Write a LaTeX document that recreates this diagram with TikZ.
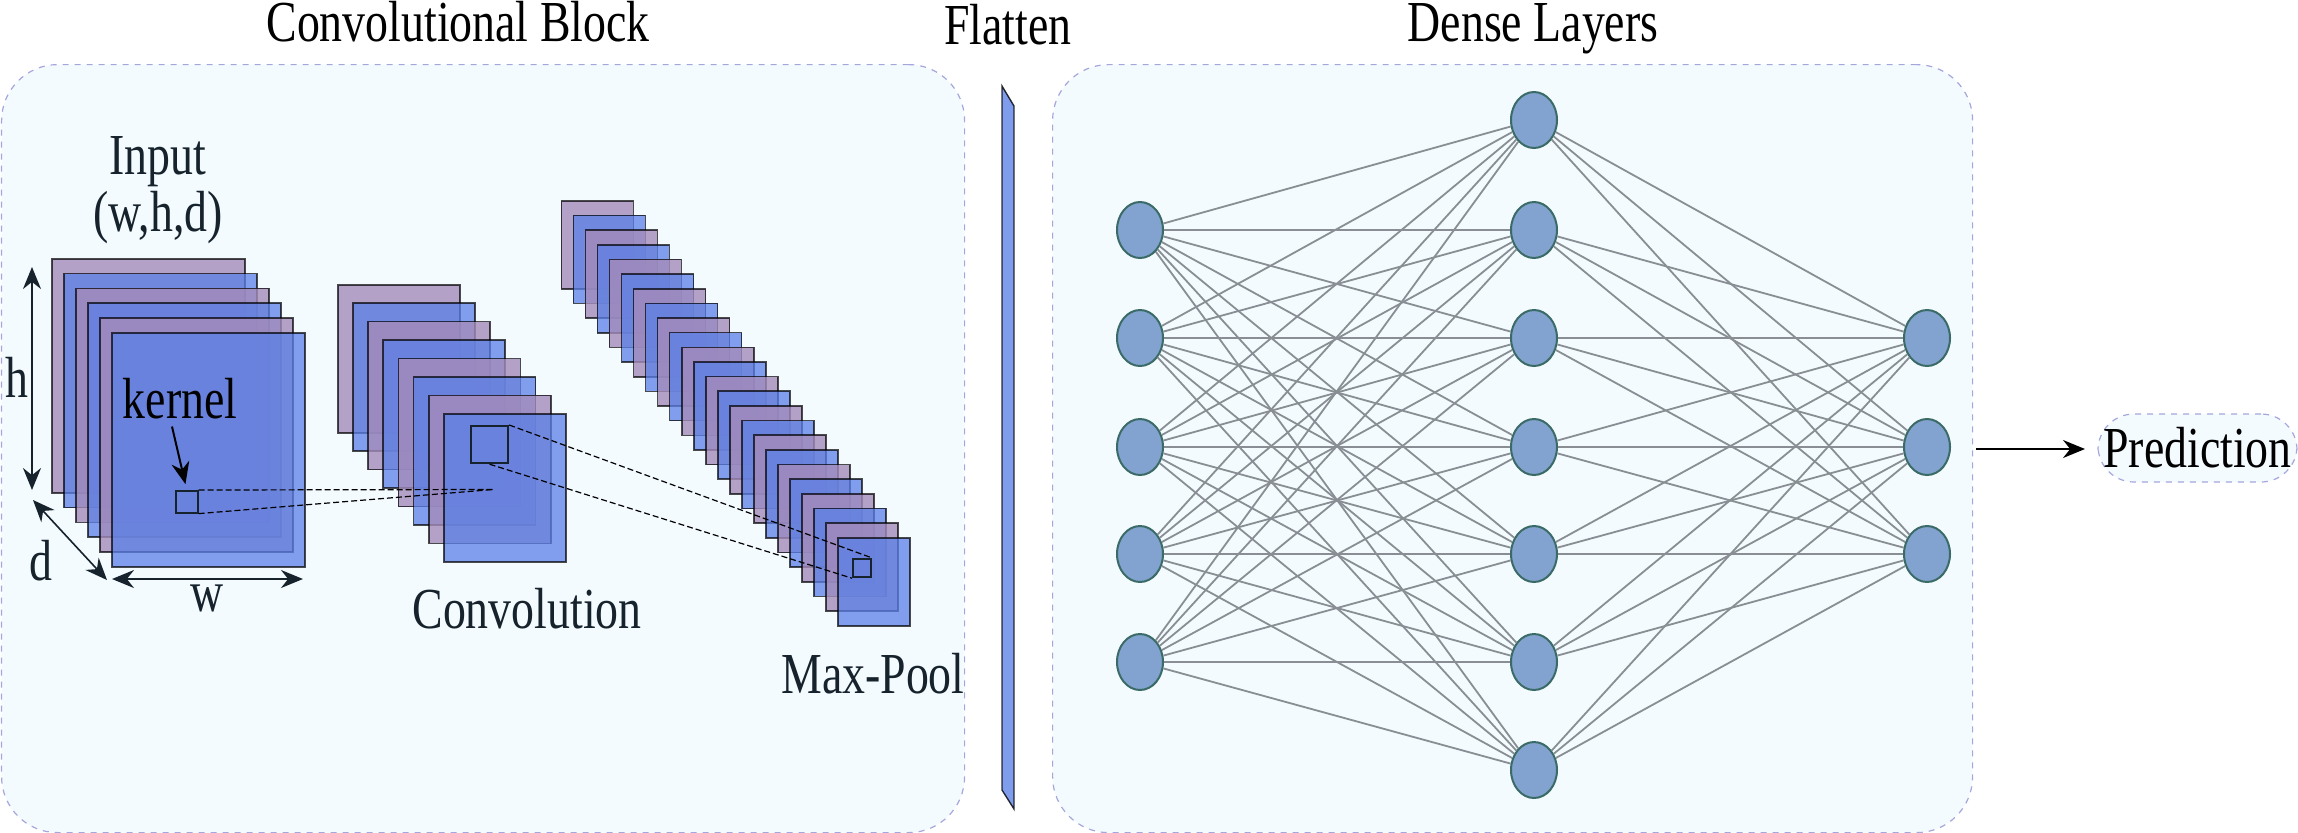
\documentclass[tikz,border=0pt]{standalone}
\usepackage{fontspec}
\setmainfont[FakeStretch=0.79]{Liberation Serif}
\usepackage{tikz}
\usetikzlibrary{arrows.meta}
\usetikzlibrary{shapes.geometric}

\definecolor{panelfill}{HTML}{F3FBFF}
\definecolor{paneldash}{HTML}{A6A6DC}
\definecolor{layerpurple}{HTML}{A58BB9}
\definecolor{layerblue}{HTML}{5A80E7}
\definecolor{barblue}{HTML}{7F9DEC}
\definecolor{neuronfill}{HTML}{82A2CF}
\definecolor{neurondraw}{HTML}{3B6B66}
\definecolor{linkgray}{HTML}{888E93}
\definecolor{labelink}{HTML}{16222C}

\tikzset{
    panel/.style={draw=paneldash,fill=panelfill,dashed,line width=0.6pt,rounded corners=28pt},
    layer0/.style={draw=black,draw opacity=0.7,line width=0.8pt,fill=layerpurple,fill opacity=0.8,anchor=north west,inner sep=0pt},
    layer1/.style={draw=black,draw opacity=0.7,line width=0.8pt,fill=layerblue,fill opacity=0.75,anchor=north west,inner sep=0pt},
    window/.style={draw=labelink,anchor=north west,inner sep=0pt},
    neuron/.style={draw=neurondraw,fill=neuronfill,line width=1pt,shape=ellipse,minimum width=23pt,minimum height=28pt,inner sep=0pt},
    link/.style={draw=linkgray,line width=0.9pt},
    lbl/.style={font=\fontsize{29}{28.5}\selectfont,text=labelink,inner sep=0pt,anchor=base},
    probe/.style={dashed,line width=0.6pt,dash pattern=on 3pt off 1.5pt},
    dimarrow/.style={{Stealth[length=11pt,width=9pt]}-{Stealth[length=11pt,width=9pt]},draw=labelink,line width=0.8pt},
    toarrow/.style={-{Stealth[length=11pt,width=9pt]},line width=0.8pt}
}

\begin{document}
\begin{tikzpicture}[x=0.5pt,y=-0.5pt]
    \useasboundingbox (0,0) rectangle (2298,832);

    % panels
    \node (convpanel)[panel,anchor=north west,inner sep=0pt,minimum width=481.5pt,minimum height=384pt] at (1,64) {};
    \node (densepanel)[panel,anchor=north west,inner sep=0pt,minimum width=460pt,minimum height=384pt] at (1052,64) {};

    % layer stacks
    \foreach \i [evaluate=\i as \c using {int(mod(\i,2))}] in {0,...,5}
        \node (input\i)[layer\c,minimum width=96.5pt,minimum height=117pt] at ({51+12*\i},{258+14.8*\i}) {};
    \foreach \i [evaluate=\i as \c using {int(mod(\i,2))}] in {0,...,7}
        \node (conv\i)[layer\c,minimum width=61pt,minimum height=74pt] at ({337+15.15*\i},{284+18.43*\i}) {};
    \foreach \i [evaluate=\i as \c using {int(mod(\i,2))}] in {0,...,23}
        \node (pool\i)[layer\c,minimum width=36pt,minimum height=44pt] at ({560.5+12.04*\i},{200+14.65*\i}) {};

    % windows
    \node (kernelbox)[window,line width=0.8pt,minimum width=11pt,minimum height=11pt] at (175,490) {};
    \node (convbox)[window,line width=1.1pt,minimum width=18.5pt,minimum height=18.5pt] at (470,425) {};
    \node (poolbox)[window,line width=1.1pt,minimum width=9pt,minimum height=9pt] at (852,558) {};
    \coordinate (convspot) at (493,489.5);

    \draw [probe] (kernelbox.north east) -- (convspot);
    \draw [probe] (kernelbox.south east) -- (convspot);
    \draw [probe] (convbox.north east) -- (poolbox.north east);
    \draw [probe] (convbox.south) -- (poolbox.south west);

    % dimensions
    \coordinate (htop) at (32,267);
    \coordinate (hbot) at (32,490);
    \coordinate (dtop) at (33,500);
    \coordinate (dbot) at (107,580);
    \coordinate (wleft) at (112,579);
    \coordinate (wright) at (303,579);
    \draw [dimarrow] (htop) -- (hbot);
    \draw [dimarrow] (dtop) -- (dbot);
    \draw [dimarrow] (wleft) -- (wright);

    % texts
    \node (convtitle)[lbl,text=black] at (458,41) {Convolutional Block};
    \node (flattentitle)[lbl,text=black] at (1008,44) {Flatten};
    \node (densetitle)[lbl,text=black] at (1533,41) {Dense Layers};
    \node (input)[lbl,align=center,anchor=center] at (158,190) {Input \\ (w,h,d)};
    \node (hlabel)[lbl] at (17,397) {h};
    \node (dlabel)[lbl] at (41,580) {d};
    \node (wlabel)[lbl] at (207,611) {w};
    \node (kernel)[lbl,text=black] at (180,418) {kernel};
    \node (convlabel)[lbl] at (527,628) {Convolution};
    \node (poollabel)[lbl] at (873,693) {Max-Pool};

    \coordinate (kerneltail) at (172,426.5);
    \draw [toarrow,line width=1pt,shorten >=3pt] (kerneltail) -- (kernelbox.north);

    % flatten bar
    \draw [draw=black,draw opacity=0.8,fill=barblue,line width=0.7pt] (1002,86) -- (1014,106) -- (1014,809) -- (1002,790) -- cycle;

    % dense layers
    \foreach \j [count=\n] in {230,338,447,554,662}
        \node (a\n)[neuron] at (1140,\j) {};
    \foreach \j [count=\n] in {120,230,338,447,554,662,770}
        \node (b\n)[neuron] at (1534,\j) {};
    \foreach \j [count=\n] in {338,447,554}
        \node (c\n)[neuron] at (1927,\j) {};

    \foreach \p in {1,...,5}
        \foreach \q in {1,...,7}
            \path [link] (a\p) edge (b\q);
    \foreach \p in {1,...,7}
        \foreach \q in {1,...,3}
            \path [link] (b\p) edge (c\q);

    % prediction
    \node (prediction)[panel,rounded corners=18pt,text=black,font=\fontsize{29}{28.5}\selectfont,inner sep=0pt,minimum width=99.5pt,minimum height=34pt] at (2197.5,448) {Prediction};
    \coordinate (outstart) at (1976,449);
    \coordinate (outend) at (2085,449);
    \draw [toarrow] (outstart) -- (outend);
\end{tikzpicture}
\end{document}
